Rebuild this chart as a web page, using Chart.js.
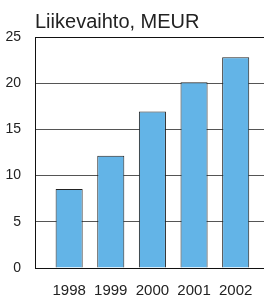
<!DOCTYPE html>
<html>
<head>
<meta charset="utf-8">
<script src="https://cdn.jsdelivr.net/npm/chart.js@4"></script>
<style>
  html, body { margin: 0; padding: 0; background: #fff; }
  #wrap { width: 264px; height: 297px; position: relative; }
</style>
</head>
<body>
<div id="wrap"><canvas id="chart"></canvas></div>
<script>
// --- DATA ---
const title = 'Liikevaihto, MEUR';
const years = [1998, 1999, 2000, 2001, 2002];
const revenue = [8.55, 12.15, 16.95, 20.1, 22.8];
const yTicks = [0, 5, 10, 15, 20, 25];

const narrow = '"Liberation Sans Narrow", "Liberation Sans", Arial, sans-serif';

// title drawn at the left edge of the plot area
const titlePlugin = {
  id: 'leftTitle',
  afterDraw(chart) {
    const ctx = chart.ctx;
    ctx.save();
    ctx.font = '20px "Liberation Sans", Arial, sans-serif';
    ctx.fillStyle = '#222';
    ctx.textBaseline = 'alphabetic';
    ctx.fillText(title, chart.chartArea.left, 28);
    ctx.restore();
  }
};

new Chart(document.getElementById('chart'), {
  type: 'bar',
  data: {
    datasets: [{
      data: years.map((y, i) => ({ x: y, y: revenue[i] })),
      backgroundColor: '#63b4e7',
      borderColor: '#222',
      borderWidth: 1,
      barPercentage: 0.65,
      categoryPercentage: 1
    }]
  },
  options: {
    responsive: true,
    maintainAspectRatio: false,
    animation: false,
    layout: { padding: { top: 37, right: 0, left: 0, bottom: 0 } },
    plugins: { legend: { display: false }, tooltip: { enabled: false } },
    scales: {
      x: {
        type: 'linear',
        offset: false,
        min: 1997.18,
        max: 2002.68,
        afterBuildTicks: s => { s.ticks = years.map(v => ({ value: v })); },
        afterFit: s => { s.height = 29; },
        grid: { display: false },
        border: { display: false },
        ticks: {
          color: '#222',
          padding: 6,
          maxRotation: 0,
          autoSkip: false,
          font: { family: narrow, size: 15 },
          callback: v => String(v)
        }
      },
      y: {
        min: 0,
        max: 25,
        afterBuildTicks: s => { s.ticks = yTicks.map(v => ({ value: v })); },
        afterFit: s => { s.width = 35; },
        grid: {
          color: ctx => (ctx.tick && (ctx.tick.value === 0 || ctx.tick.value === 25)) ? '#111' : '#555',
          lineWidth: 1,
          drawTicks: false
        },
        border: { display: true, color: '#111', width: 1 },
        ticks: {
          color: '#222',
          padding: 14,
          font: { family: narrow, size: 14 }
        }
      }
    }
  },
  plugins: [titlePlugin]
});
</script>
</body>
</html>
